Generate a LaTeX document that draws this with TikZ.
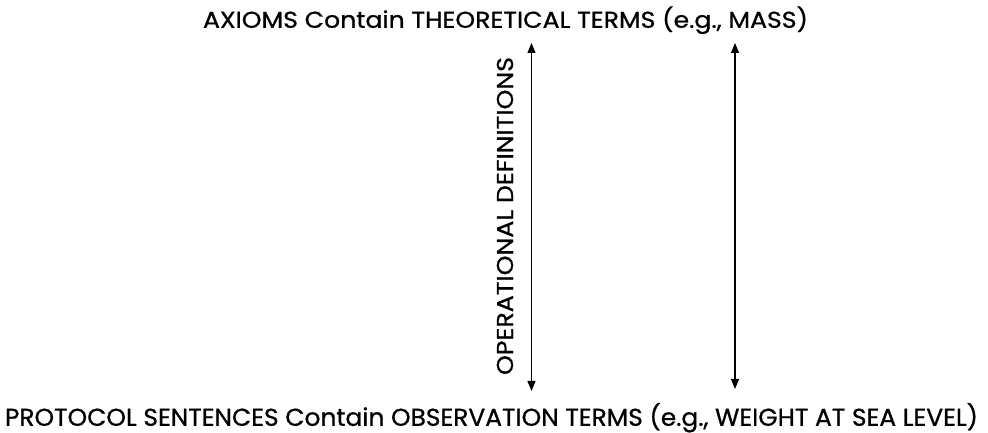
\documentclass[tikz,border=0pt]{standalone}
\usepackage{fontspec}
\setmainfont{Poppins}[FakeBold=0.8]
\usetikzlibrary{arrows.meta}
\newcommand{\fitcaps}[3]{\resizebox{#1}{#2}{\fontsize{20}{24}\selectfont\smash{#3}\rule{0pt}{\fontcharht\font`H}}}
\tikzset{
  lbl/.style={inner sep=0pt, anchor=south},
  dbl/.style={line width=1.2pt, {Triangle[length=10pt,width=8pt]}-{Triangle[length=10pt,width=8pt]}}
}
\begin{document}
\begin{tikzpicture}[x=1pt,y=1pt]
\useasboundingbox (0,0) rectangle (988,433);
\node[lbl] (top) at (505.5,405) {\fitcaps{605pt}{16pt}{AXIOMS Contain THEORETICAL TERMS (e.g., MASS)}};
\node[lbl] (bot) at (491.5,7) {\fitcaps{973pt}{17pt}{PROTOCOL SENTENCES Contain OBSERVATION TERMS (e.g., WEIGHT AT SEA LEVEL)}};
\coordinate (l1) at (531.5,390);
\coordinate (l2) at (531.5,42);
\coordinate (r1) at (735,390);
\coordinate (r2) at (735,44);
\draw[dbl] (l1) -- (l2);
\draw[dbl] (r1) -- (r2);
\node[rotate=90, inner sep=0pt] (op) at (505,217) {\fitcaps{318pt}{16pt}{OPERATIONAL DEFINITIONS}};
\end{tikzpicture}
\end{document}
